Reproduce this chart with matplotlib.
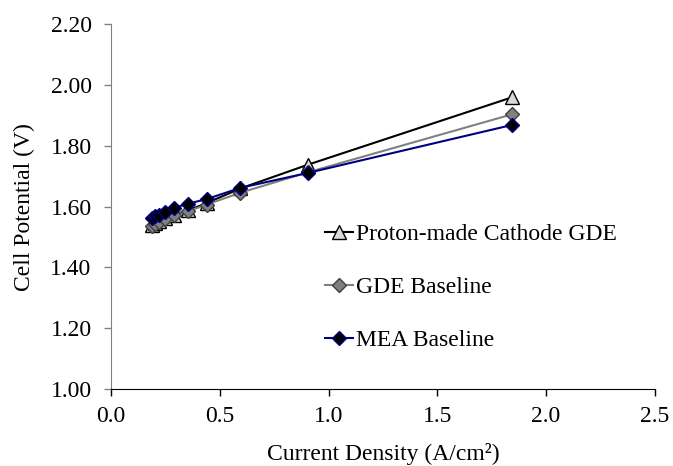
import matplotlib
matplotlib.use("Agg")
import matplotlib.pyplot as plt

# current density (A/cm2) and cell potential (V)
current = [0.19, 0.20, 0.22, 0.25, 0.29, 0.355, 0.44, 0.595, 0.905, 1.845]
proton_gde = [1.540, 1.545, 1.552, 1.562, 1.574, 1.588, 1.612, 1.660, 1.738, 1.960]
gde_base = [1.537, 1.543, 1.550, 1.560, 1.571, 1.585, 1.607, 1.646, 1.713, 1.904]
mea_base = [1.562, 1.568, 1.574, 1.583, 1.596, 1.610, 1.625, 1.662, 1.711, 1.869]

labels = ["Proton-made Cathode GDE", "GDE Baseline", "MEA Baseline"]

plt.rcParams["font.family"] = ["Liberation Serif", "DejaVu Serif"]
FS = 17

fig = plt.figure(figsize=(6.73, 4.66), dpi=100)
ax = fig.add_axes([0.165, 0.165, 0.808, 0.783])

ax.plot(current, proton_gde, color="black", lw=1.5, marker="^", ms=10,
        mfc="#d9d9d9", mec="black", mew=1.0, label=labels[0])
ax.plot(current, gde_base, color="#808080", lw=1.5, marker="D", ms=7,
        mfc="#808080", mec="#404040", mew=1.0, label=labels[1])
ax.plot(current, mea_base, color="#000080", lw=1.5, marker="D", ms=7,
        mfc="black", mec="#000080", mew=1.0, label=labels[2])

ax.set_xlim(0, 2.5)
ax.set_ylim(1.0, 2.2)
ax.set_xticks([0.0, 0.5, 1.0, 1.5, 2.0, 2.5])
ax.set_xticklabels([f"{v:.1f}" for v in ax.get_xticks()])
ax.set_yticks([1.0, 1.2, 1.4, 1.6, 1.8, 2.0, 2.2])
ax.set_yticklabels([f"{v:.2f}" for v in ax.get_yticks()])
ax.tick_params(labelsize=FS, direction="out", length=5, width=1, pad=7)
ax.tick_params(axis="y", color="#808080", pad=9)

for s in ("top", "right"):
    ax.spines[s].set_visible(False)
ax.spines["left"].set_color("#808080")
ax.spines["bottom"].set_color("black")

ax.set_xlabel("Current Density (A/cm²)", fontsize=FS, labelpad=12)
ax.set_ylabel("Cell Potential (V)", fontsize=FS, labelpad=11)

ax.legend(loc="upper left", bbox_to_anchor=(0.372, 0.485), frameon=False,
          fontsize=FS, handlelength=1.2, handletextpad=0.1,
          borderpad=0, labelspacing=1.32)

fig.savefig("out.png", dpi=100)
